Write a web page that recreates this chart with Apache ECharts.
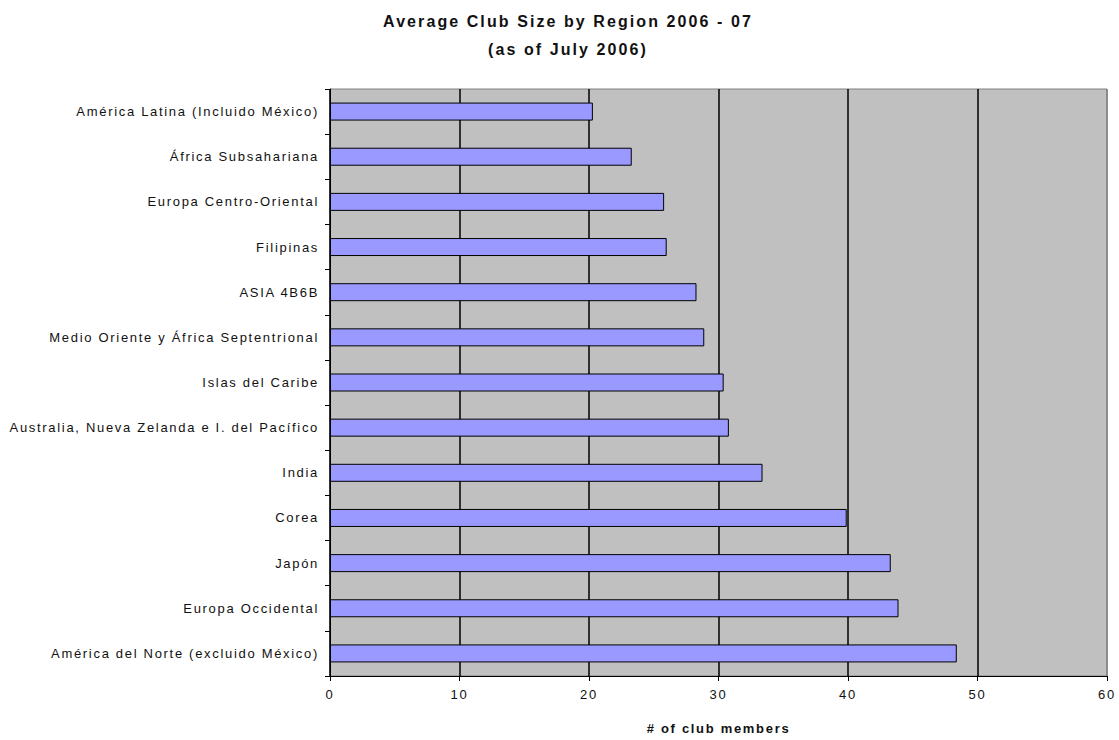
<!DOCTYPE html>
<html>
<head>
<meta charset="utf-8">
<script src="https://cdn.jsdelivr.net/npm/echarts@6/dist/echarts.min.js"></script>
<style>
html,body{margin:0;padding:0;background:#fff;}
#chart{width:1119px;height:740px;}
#chart svg text{letter-spacing:0.13em;}
</style>
</head>
<body>
<div id="chart"></div>
<script>
const categories = [
  "América Latina (Incluido México)",
  "África Subsahariana",
  "Europa Centro-Oriental",
  "Filipinas",
  "ASIA 4B6B",
  "Medio Oriente y África Septentrional",
  "Islas del Caribe",
  "Australia, Nueva Zelanda e I. del Pacífico",
  "India",
  "Corea",
  "Japón",
  "Europa Occidental",
  "América del Norte (excluido México)"
];
const values = [20.3, 23.3, 25.8, 26.0, 28.3, 28.9, 30.4, 30.8, 33.4, 39.9, 43.3, 43.9, 48.4];
const xTicks = [0, 10, 20, 30, 40, 50, 60];

const FONT = 'Liberation Sans, Arial';
const chart = echarts.init(document.getElementById('chart'), null, {renderer: 'svg'});
chart.setOption({
  animation: false,
  backgroundColor: '#fff',
  title: {
    text: 'Average Club Size by Region 2006 - 07\n(as of July 2006)',
    left: 563, top: 2, textAlign: 'center',
    textStyle: {fontFamily: FONT, fontSize: 16, fontWeight: 'bold', color: '#111', lineHeight: 28}
  },
  grid: {
    left: 330, right: 12, top: 89, bottom: 62,
    show: true, backgroundColor: '#C0C0C0', borderColor: '#808080', borderWidth: 1
  },
  xAxis: {
    type: 'value', min: xTicks[0], max: xTicks[xTicks.length - 1], interval: 10,
    name: '# of club members', nameLocation: 'middle', nameGap: 46,
    nameTextStyle: {fontFamily: FONT, fontSize: 13, fontWeight: 'bold', color: '#111'},
    axisLine: {show: true, lineStyle: {color: '#000', width: 1}},
    axisTick: {show: true, length: 5, lineStyle: {color: '#000'}},
    axisLabel: {fontFamily: FONT, fontSize: 13, color: '#111', margin: 12},
    splitLine: {show: true, lineStyle: {color: ['#000', '#000', '#000', '#000', '#000', '#000', '#808080'], width: 1.5}}
  },
  yAxis: {
    type: 'category', data: categories, inverse: true,
    axisLine: {show: true, lineStyle: {color: '#000', width: 1}},
    axisTick: {show: true, length: 5, lineStyle: {color: '#000'}},
    axisLabel: {fontFamily: FONT, fontSize: 13, color: '#111', margin: 11},
    splitLine: {show: false}
  },
  series: [{
    type: 'bar', data: values, barWidth: 18,
    itemStyle: {color: '#9999FF', borderColor: '#000', borderWidth: 1}
  }]
});
</script>
</body>
</html>
